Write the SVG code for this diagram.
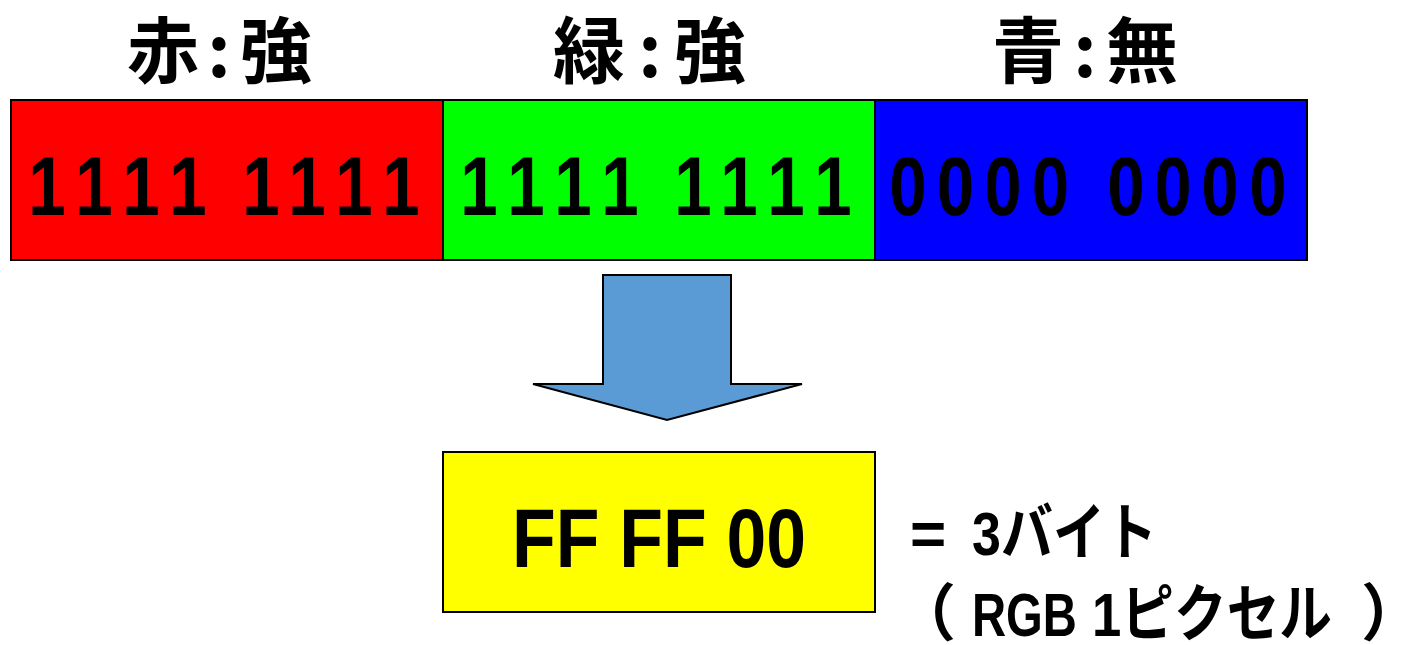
<svg xmlns="http://www.w3.org/2000/svg" width="1404" height="645" viewBox="0 0 1404 645">
<style>
.t{font-family:"Liberation Sans","Noto Sans CJK JP",sans-serif;font-weight:bold;fill:#000}
.d{font-family:"Liberation Sans",sans-serif;font-weight:bold;fill:#000;font-size:84px;text-anchor:middle}
.h{font-family:"Noto Sans CJK JP",sans-serif;font-weight:bold;fill:#000;font-size:72px;text-anchor:middle}
.box{stroke:#000;stroke-width:2}
</style>
<rect width="1404" height="645" fill="#fff"/>
<g id="head-red"><text class="h" y="77"><tspan x="163">赤</tspan><tspan x="219">:</tspan><tspan x="276">強</tspan></text></g>
<g id="head-green"><text class="h" y="77"><tspan x="589">緑</tspan><tspan x="650">:</tspan><tspan x="710">強</tspan></text></g>
<g id="head-blue"><text class="h" y="77"><tspan x="1028">青</tspan><tspan x="1085">:</tspan><tspan x="1142">無</tspan></text></g>
<g id="red">
<rect class="box" x="11" y="100" width="432" height="160" fill="#ff0000"/>
<text class="d" transform="scale(0.8 1)" y="215" x="58.75 117.5 176.25 235 280 326.25 383.75 442.5 501.25">1111 1111</text>
</g>
<g id="green">
<rect class="box" x="443" y="100" width="432" height="160" fill="#00ff00"/>
<text class="d" transform="scale(0.8 1)" y="215" x="598.75 657.5 716.25 775 820 866.25 923.75 982.5 1041.25">1111 1111</text>
</g>
<g id="blue">
<rect class="box" x="875" y="100" width="432" height="160" fill="#0000ff"/>
<text class="d" transform="scale(0.8 1)" y="215" x="1135 1194.4 1253.75 1313.1 1360 1407.5 1466.25 1525 1585">0000 0000</text>
</g>
<g id="connectors">
<polygon points="603,275 731,275 731,384 802,384 667,420 533,384 603,384" fill="#5b9bd5" stroke="#000" stroke-width="2"/>
</g>
<g id="result">
<rect class="box" x="443" y="452" width="432" height="160" fill="#ffff00"/>
<text class="t" x="512" y="567" font-size="84" textLength="294" lengthAdjust="spacingAndGlyphs">FF FF 00</text>
</g>
<g id="note">
<text class="t" y="555" font-size="62"><tspan x="910">=</tspan><tspan x="972" textLength="185" lengthAdjust="spacingAndGlyphs">3バイト</tspan></text>
<text class="t" y="636" font-size="62"><tspan x="894">（</tspan><tspan x="972" textLength="105" lengthAdjust="spacingAndGlyphs">RGB</tspan><tspan x="1092" textLength="240" lengthAdjust="spacingAndGlyphs">1ピクセル</tspan><tspan x="1361">）</tspan></text>
</g>
</svg>
